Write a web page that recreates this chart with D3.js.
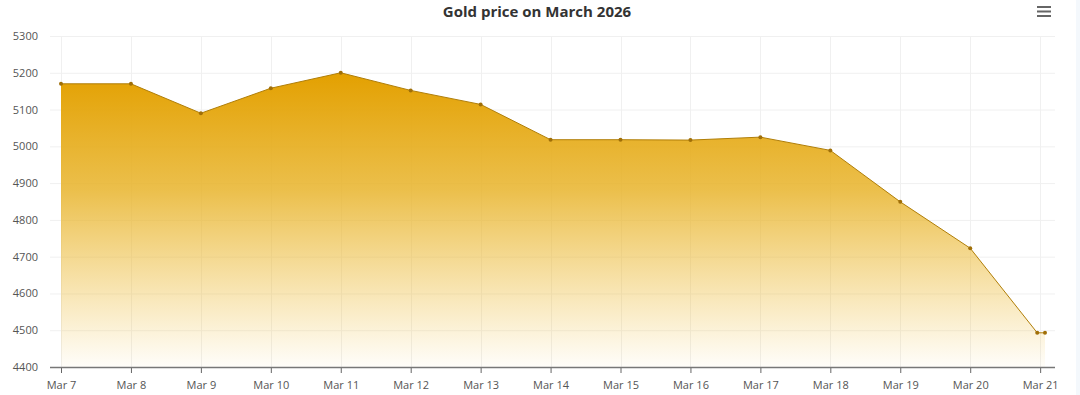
<!DOCTYPE html>
<html>
<head>
<meta charset="utf-8">
<script src="https://cdn.jsdelivr.net/npm/d3@7"></script>
<style>
  body { margin: 0; background: #fff; }
  svg { display: block; font-family: "Open Sans", "Noto Sans", sans-serif; }
</style>
</head>
<body>
<svg id="chart" width="1080" height="395"></svg>
<script>
// Gold price series (USD/oz)
const dates = [
  '2026-03-07T00:00', '2026-03-08T00:00', '2026-03-09T00:00', '2026-03-10T00:00',
  '2026-03-11T00:00', '2026-03-12T00:00', '2026-03-13T00:00', '2026-03-14T00:00',
  '2026-03-15T00:00', '2026-03-16T00:00', '2026-03-17T00:00', '2026-03-18T00:00',
  '2026-03-19T00:00', '2026-03-20T00:00', '2026-03-20T23:00', '2026-03-21T01:40'
];
const prices = [5170, 5170, 5090, 5158, 5200, 5152, 5114, 5018, 5018, 5017, 5025, 4989, 4849, 4723, 4493, 4493];
const yTicks = [4400, 4500, 4600, 4700, 4800, 4900, 5000, 5100, 5200, 5300];
const tickDays = d3.range(7, 22).map(d => new Date(2026, 2, d));
const title = 'Gold price on March 2026';

const parse = d3.timeParse('%Y-%m-%dT%H:%M');
const data = dates.map((d, i) => ({ t: parse(d), v: prices[i] }));

const svg = d3.select('#chart');
const plotL = 50, plotR = 1055, plotT = 36, plotB = 367;

const x = d3.scaleTime()
  .domain([data[0].t, data[data.length - 1].t])
  .range([61, 1045]);
const y = d3.scaleLinear().domain([4400, 5300]).range([plotB, plotT]);

// gradient for area
const defs = svg.append('defs');
const grad = defs.append('linearGradient')
  .attr('id', 'goldFill')
  .attr('x1', 0).attr('y1', 0).attr('x2', 0).attr('y2', 1);
grad.append('stop').attr('offset', '0%').attr('stop-color', '#e3a000').attr('stop-opacity', 1);
grad.append('stop').attr('offset', '40%').attr('stop-color', '#e8b42c').attr('stop-opacity', 0.85);
grad.append('stop').attr('offset', '100%').attr('stop-color', '#f0c040').attr('stop-opacity', 0.03);

// grid
svg.append('g').selectAll('line').data(yTicks).join('line')
  .attr('x1', plotL).attr('x2', plotR)
  .attr('y1', d => y(d) + 0.5).attr('y2', d => y(d) + 0.5)
  .attr('stroke', '#f0f0f0');
svg.append('g').selectAll('line').data(tickDays).join('line')
  .attr('x1', d => Math.round(x(d)) + 0.5).attr('x2', d => Math.round(x(d)) + 0.5)
  .attr('y1', plotT).attr('y2', plotB)
  .attr('stroke', '#f0f0f0');

// area + line
const area = d3.area().x(d => x(d.t)).y0(plotB).y1(d => y(d.v));
const line = d3.line().x(d => x(d.t)).y(d => y(d.v));

svg.append('path').datum(data)
  .attr('d', area)
  .attr('fill', 'url(#goldFill)');
svg.append('path').datum(data)
  .attr('d', line)
  .attr('fill', 'none')
  .attr('stroke', '#b07e08')
  .attr('stroke-width', 1);
svg.append('g').selectAll('circle').data(data).join('circle')
  .attr('cx', d => x(d.t)).attr('cy', d => y(d.v))
  .attr('r', 2)
  .attr('fill', '#a06f08');

// y labels
svg.append('g').selectAll('text').data(yTicks).join('text')
  .attr('x', 38).attr('y', d => y(d) + 4)
  .attr('text-anchor', 'end')
  .attr('font-size', 11)
  .attr('fill', '#555')
  .text(d => d);

// x axis
const xAxis = d3.axisBottom(x)
  .tickValues(tickDays)
  .tickFormat(d3.timeFormat('Mar %-d'))
  .tickSize(6)
  .tickSizeOuter(0);
const gx = svg.append('g')
  .attr('transform', `translate(0,${plotB})`)
  .call(xAxis);
gx.select('.domain').remove();
gx.append('line')
  .attr('x1', plotL).attr('x2', plotR)
  .attr('y1', 0.5).attr('y2', 0.5)
  .attr('stroke', '#777').attr('stroke-width', 1.5);
gx.selectAll('.tick line').attr('stroke', '#666');
gx.selectAll('.tick text')
  .attr('font-family', '"Open Sans", "Noto Sans", sans-serif')
  .attr('font-size', 11)
  .attr('fill', '#555')
  .attr('dy', '1.2em');

// title
svg.append('text')
  .attr('x', 537).attr('y', 17)
  .attr('text-anchor', 'middle')
  .attr('font-size', 15)
  .attr('font-weight', 'bold')
  .attr('fill', '#333')
  .text(title);

// menu icon
svg.append('g').selectAll('rect').data([0, 1, 2]).join('rect')
  .attr('x', 1037).attr('y', d => 6 + d * 4.5)
  .attr('width', 14).attr('height', 2)
  .attr('fill', '#666');

// faint strip on the right edge
svg.append('rect')
  .attr('x', 1076).attr('y', 0).attr('width', 4).attr('height', 395)
  .attr('fill', '#f4f8fc');
</script>
</body>
</html>
